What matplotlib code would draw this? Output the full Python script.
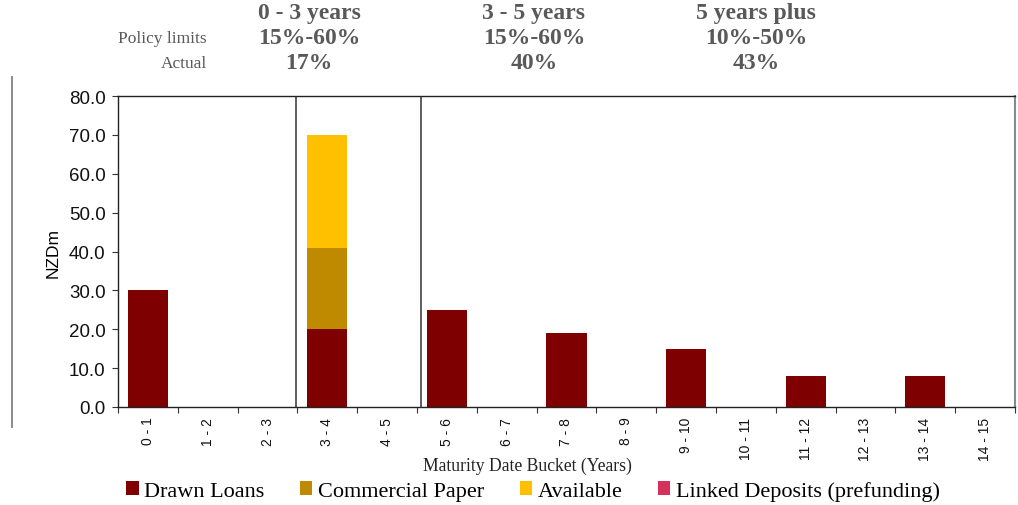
import matplotlib
matplotlib.use("Agg")
import matplotlib.pyplot as plt
from matplotlib.lines import Line2D
import numpy as np

buckets = ["0 - 1", "1 - 2", "2 - 3", "3 - 4", "4 - 5", "5 - 6", "6 - 7", "7 - 8",
           "8 - 9", "9 - 10", "10 - 11", "11 - 12", "12 - 13", "13 - 14", "14 - 15"]
drawn_loans = [30, 0, 0, 20, 0, 25, 0, 19, 0, 15, 0, 8, 0, 8, 0]
commercial_paper = [0, 0, 0, 21, 0, 0, 0, 0, 0, 0, 0, 0, 0, 0, 0]
available = [0, 0, 0, 29, 0, 0, 0, 0, 0, 0, 0, 0, 0, 0, 0]
linked_deposits = [0] * 15

groups = ["0 - 3 years", "3 - 5 years", "5 years plus"]
policy_limits = ["15%-60%", "15%-60%", "10%-50%"]
actual = ["17%", "40%", "43%"]

c_drawn = "#7F0000"
c_cp = "#C08A00"
c_avail = "#FFC000"
c_linked = "#D6335C"

W, H = 1018, 506
fig = plt.figure(figsize=(W / 100, H / 100), dpi=100)
ax = fig.add_axes([118 / W, 1 - 408 / H, (1015 - 118) / W, (408 - 97) / H])

x = np.arange(len(buckets))
bw = 0.67
d = np.array(drawn_loans, float)
cp = np.array(commercial_paper, float)
av = np.array(available, float)
ld = np.array(linked_deposits, float)
b1 = ax.bar(x, d, bw, color=c_drawn, label="Drawn Loans")
b2 = ax.bar(x, cp, bw, bottom=d, color=c_cp, label="Commercial Paper")
b3 = ax.bar(x, av, bw, bottom=d + cp, color=c_avail, label="Available")
b4 = ax.bar(x, ld, bw, bottom=d + cp + av, color=c_linked, label="Linked Deposits (prefunding)")

ax.set_xlim(-0.5, len(buckets) - 0.5)
ax.set_ylim(0, 80)
ax.set_yticks(np.arange(0, 81, 10))
ax.set_yticklabels([f"{v:.1f}" for v in np.arange(0, 81, 10)],
                   fontfamily="Liberation Sans", fontsize=13.5, color="#111111")
ax.set_xticks(np.arange(-0.5, len(buckets), 1.0))
ax.set_xticklabels([])
ax.set_xticks(x, minor=True)
ax.set_xticklabels(buckets, minor=True, rotation=90, fontfamily="Liberation Sans",
                   fontsize=10, color="#111111")
ax.tick_params(axis="x", which="minor", length=0, pad=7)
ax.tick_params(axis="x", which="major", length=4, direction="out", color="#333333")
ax.tick_params(axis="y", length=4, direction="out", color="#333333", pad=5)

for s in ["left", "bottom", "top"]:
    ax.spines[s].set_color("#222222")
    ax.spines[s].set_linewidth(1.0)
ax.spines["right"].set_color("#888888")
ax.spines["right"].set_linewidth(1.5)

for xv in [2.47, 4.56]:
    ax.axvline(xv, color="#444444", lw=1.2)

ax.set_ylabel("NZDm", fontfamily="Liberation Sans", fontsize=12.5, labelpad=6)

fig.text(527 / W, 1 - 466 / H, "Maturity Date Bucket (Years)", ha="center", va="center",
         fontfamily="Liberation Serif", fontsize=12.7, color="#222222")

# header table
hx = [309, 534, 756]
hc = "#595959"
for i in range(3):
    fig.text(hx[i] / W, 1 - 13 / H, groups[i], ha="center", va="center",
             fontfamily="Liberation Serif", fontweight="bold", fontsize=17, color=hc)
    fig.text(hx[i] / W, 1 - 39 / H, policy_limits[i], ha="center", va="center",
             fontfamily="Liberation Serif", fontweight="bold", fontsize=17, color=hc)
    fig.text(hx[i] / W, 1 - 64 / H, actual[i], ha="center", va="center",
             fontfamily="Liberation Serif", fontweight="bold", fontsize=17, color=hc)
fig.text(207 / W, 1 - 39 / H, "Policy limits", ha="right", va="center",
         fontfamily="Liberation Serif", fontsize=12.5, color=hc)
fig.text(207 / W, 1 - 64 / H, "Actual", ha="right", va="center",
         fontfamily="Liberation Serif", fontsize=12.5, color=hc)

# decorative left line
fig.add_artist(Line2D([12 / W, 12 / W], [1 - 78 / H, 1 - 428 / H], color="#777777", lw=1.2))

leg = fig.legend(handles=[b1, b2, b3, b4], loc="center", bbox_to_anchor=(533 / W, 1 - 492 / H),
                 ncol=4, frameon=False, handlelength=0.55, handleheight=0.55, handletextpad=0.25,
                 columnspacing=1.6, prop={"family": "Liberation Serif", "size": 16})

fig.savefig("out.png", dpi=100)
